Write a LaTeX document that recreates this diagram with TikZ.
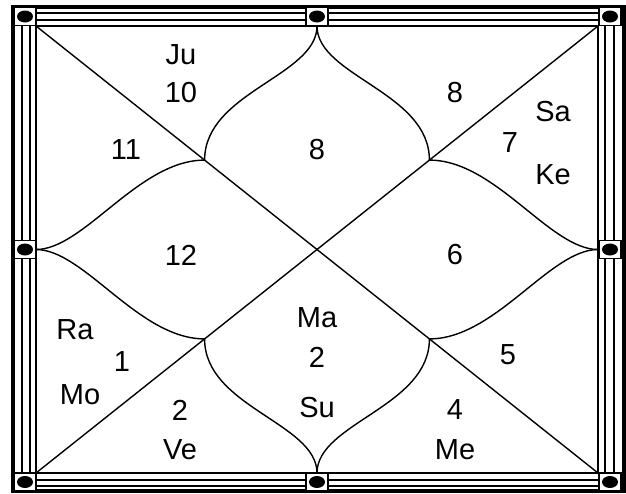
\documentclass[tikz,border=0pt]{standalone}
\usepackage{fontspec}
\setmainfont{Liberation Sans}
\usepackage{tikz}
\usetikzlibrary{positioning, calc}

\begin{document}
\begin{tikzpicture}[
    x=0.5pt, y=-0.5pt,
    peg/.style={draw, line width=0.6pt, fill=white, minimum width=11pt, minimum height=9pt, inner sep=0pt,
      path picture={\fill[black] (path picture bounding box.center) ellipse [x radius=4pt, y radius=3pt];}},
    lbl/.style={font=\fontsize{14.5}{17}\selectfont, inner sep=0pt},
    petal/.style={line width=0.7pt},
]
\useasboundingbox (0,0) rectangle (626,493);

% frame
\draw[line width=1.8pt] (13,7) rectangle (624,491);
\draw[line width=0.7pt] (22,13) rectangle (614,486);
\draw[line width=0.7pt] (30,20) rectangle (605,480);
\draw[line width=1.1pt] (36,26) rectangle (598,473);

% chart corners and side midpoints
\coordinate (nw) at (36,26);
\coordinate (ne) at (598,26);
\coordinate (sw) at (36,473);
\coordinate (se) at (598,473);
\coordinate (top) at (317,26);
\coordinate (bot) at (317,473);
\coordinate (lft) at (36,249.5);
\coordinate (rgt) at (598,249.5);

% cusps
\coordinate (c1) at ($(nw)!0.3!(se)$);
\coordinate (c2) at ($(ne)!0.3!(sw)$);
\coordinate (c3) at ($(ne)!0.7!(sw)$);
\coordinate (c4) at ($(nw)!0.7!(se)$);

\draw[petal] (nw) -- (se);
\draw[petal] (ne) -- (sw);

\draw[petal] (top) .. controls +(0,50) and +(0,-68) .. (c1);
\draw[petal] (top) .. controls +(0,50) and +(0,-68) .. (c2);
\draw[petal] (bot) .. controls +(0,-50) and +(0,68) .. (c3);
\draw[petal] (bot) .. controls +(0,-50) and +(0,68) .. (c4);
\draw[petal] (lft) .. controls +(48,0) and +(-66,0) .. (c1);
\draw[petal] (lft) .. controls +(48,0) and +(-66,0) .. (c3);
\draw[petal] (rgt) .. controls +(-48,0) and +(66,0) .. (c2);
\draw[petal] (rgt) .. controls +(-48,0) and +(66,0) .. (c4);

% pegs
\node[peg] (p1) at (25,16.5) {};
\node[peg] (p2) at (317,16.5) {};
\node[peg] (p3) at (610,16.5) {};
\node[peg] (p4) at (25,249.5) {};
\node[peg] (p5) at (610,249.5) {};
\node[peg] (p6) at (25,482) {};
\node[peg] (p7) at (317,482) {};
\node[peg] (p8) at (610,482) {};

% houses
\node[lbl] (ju) at (181,55) {Ju};
\node[lbl] (h10) at (181,93) {10};
\node[lbl] (h11) at (126,150) {11};
\node[lbl] (h8a) at (317,150) {8};
\node[lbl] (h8b) at (455,93) {8};
\node[lbl] (sa) at (553,112) {Sa};
\node[lbl] (h7) at (510,143) {7};
\node[lbl] (ke) at (553,175) {Ke};
\node[lbl] (h12) at (181,255) {12};
\node[lbl] (h6) at (455,255) {6};
\node[lbl] (ra) at (75,330) {Ra};
\node[lbl] (h1) at (122,362) {1};
\node[lbl] (mo) at (80,395) {Mo};
\node[lbl] (ma) at (317,318) {Ma};
\node[lbl] (h2a) at (317,357) {2};
\node[lbl] (su) at (317,408) {Su};
\node[lbl] (h5) at (508,355) {5};
\node[lbl] (h2b) at (180,410) {2};
\node[lbl] (ve) at (180,450) {Ve};
\node[lbl] (h4) at (455,410) {4};
\node[lbl] (me) at (455,450) {Me};

\end{tikzpicture}
\end{document}
